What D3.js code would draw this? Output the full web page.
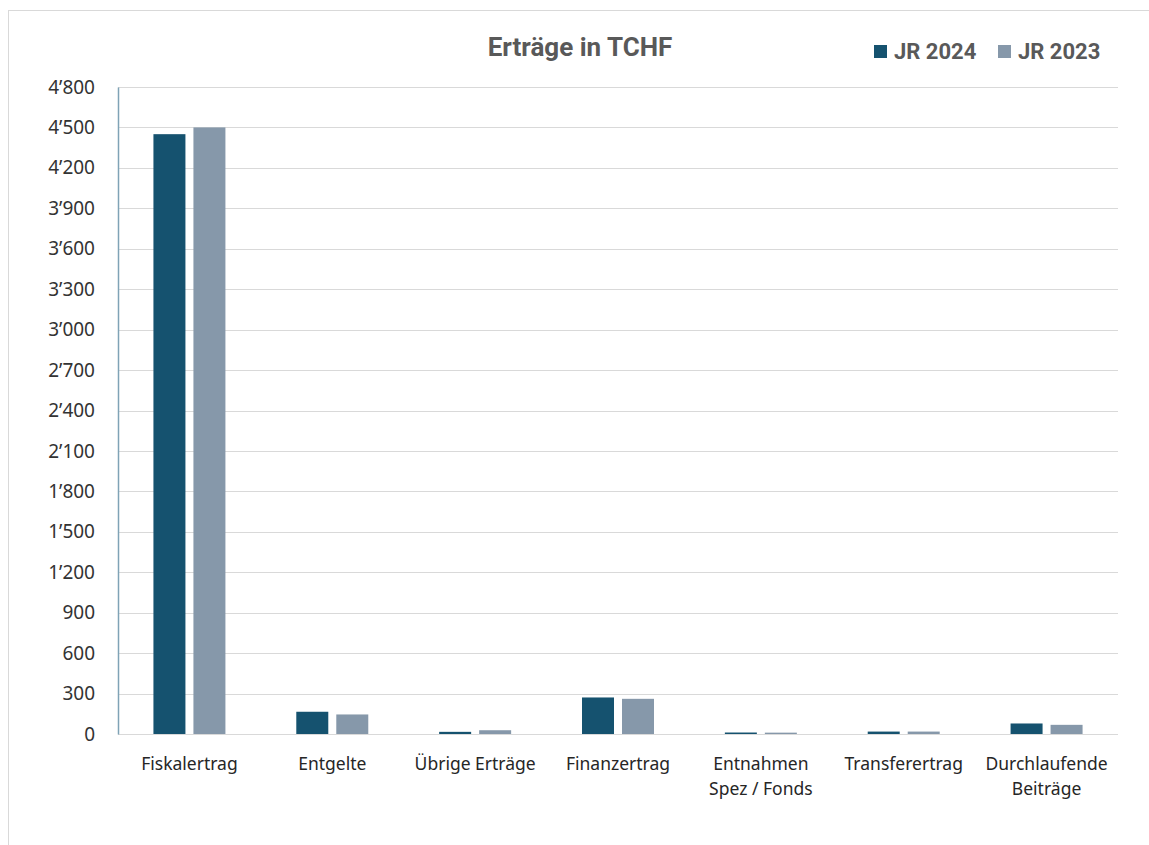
<!DOCTYPE html>
<html>
<head>
<meta charset="utf-8">
<script src="https://cdn.jsdelivr.net/npm/d3@7"></script>
<style>
  body { margin: 0; background: #fff; }
  svg { display: block; }
</style>
</head>
<body>
<div id="chart"></div>
<script>
// categories on the x axis (multi-line labels split with \n)
const categories = ['Fiskalertrag', 'Entgelte', 'Übrige Erträge', 'Finanzertrag',
    'Entnahmen\nSpez / Fonds', 'Transferertrag', 'Durchlaufende\nBeiträge'];
const seriesNames = ['JR 2024', 'JR 2023'];
const jr2024 = [4450, 165, 16, 271, 11, 18, 78];
const jr2023 = [4500, 145, 28, 261, 10, 18, 68];
const yTicks = [0, 300, 600, 900, 1200, 1500, 1800, 2100, 2400, 2700, 3000, 3300, 3600, 3900, 4200, 4500, 4800];

const width = 1149, height = 845;
const margin = {left: 118, right: 31, top: 87, bottom: 111};
const colors = ['#15526f', '#8698aa'];

const svg = d3.select('#chart').append('svg')
    .attr('width', width)
    .attr('height', height);

// outer chart frame
svg.append('rect')
    .attr('x', 8.5).attr('y', 10.5)
    .attr('width', width + 10).attr('height', height + 10)
    .attr('fill', 'none')
    .attr('stroke', '#d9d9d9');

const xScale = d3.scaleBand()
    .domain(categories)
    .range([margin.left, width - margin.right]);

const xInner = d3.scaleBand()
    .domain(seriesNames)
    .range([0, xScale.bandwidth()])
    .paddingInner(0.2)
    .paddingOuter(0.886);

const yScale = d3.scaleLinear()
    .domain([0, 4800])
    .range([height - margin.bottom, margin.top]);

// gridlines
svg.append('g')
    .selectAll('line')
    .data(yTicks)
    .enter()
    .append('line')
    .attr('x1', margin.left)
    .attr('x2', width - margin.right)
    .attr('y1', function (d) { return Math.round(yScale(d)) + 0.5; })
    .attr('y2', function (d) { return Math.round(yScale(d)) + 0.5; })
    .attr('stroke', '#d9d9d9')
    .attr('stroke-width', 1);

// y axis
const yAxis = svg.append('g')
    .attr('transform', `translate(${margin.left}, 0)`)
    .call(d3.axisLeft(yScale)
        .tickValues(yTicks)
        .tickSize(0)
        .tickPadding(23)
        .tickFormat(function (d) { return d3.format(',')(d).replace(/,/g, '’'); }));
yAxis.select('.domain')
    .attr('stroke', '#7fa3b6')
    .attr('stroke-width', 1.5);
yAxis.selectAll('text')
    .style('font-family', '"Noto Sans", "Liberation Sans", sans-serif')
    .style('font-size', '19px')
    .style('fill', '#333');

// bars
const data = categories.map(function (c, i) {
    return {category: c, values: [jr2024[i], jr2023[i]]};
});

svg.append('g')
    .selectAll('g')
    .data(data)
    .enter()
    .append('g')
    .attr('transform', function (d) { return `translate(${xScale(d.category)}, 0)`; })
    .selectAll('rect')
    .data(function (d) { return d.values.map(function (v, k) { return {key: seriesNames[k], value: v, k: k}; }); })
    .enter()
    .append('rect')
    .attr('x', function (d) { return xInner(d.key); })
    .attr('width', xInner.bandwidth())
    .attr('y', function (d) { return yScale(d.value); })
    .attr('height', function (d) { return yScale(0) - yScale(d.value); })
    .attr('fill', function (d) { return colors[d.k]; });

// category labels
svg.append('g')
    .selectAll('text')
    .data(categories)
    .enter()
    .append('text')
    .attr('x', function (d) { return xScale(d) + xScale.bandwidth() / 2; })
    .attr('y', height - margin.bottom + 36)
    .attr('text-anchor', 'middle')
    .style('font-family', '"Noto Sans", "Open Sans", sans-serif')
    .style('font-size', '17.5px')
    .style('fill', '#262626')
    .each(function (d) {
        const lines = d.split('\n');
        const t = d3.select(this);
        lines.forEach(function (l, i) {
            t.append('tspan')
                .attr('x', xScale(d) + xScale.bandwidth() / 2)
                .attr('dy', i === 0 ? 0 : 25)
                .text(l);
        });
    });

// title
svg.append('text')
    .attr('x', 580)
    .attr('y', 56)
    .attr('text-anchor', 'middle')
    .style('font-family', 'Roboto, sans-serif')
    .style('font-weight', 'bold')
    .style('font-size', '26px')
    .style('fill', '#595959')
    .text('Erträge in TCHF');

// legend
const legendX = [874, 998];
const legend = svg.selectAll('.legend')
    .data(seriesNames)
    .enter().append('g')
    .attr('class', 'legend')
    .attr('transform', function (d, i) { return `translate(${legendX[i]}, 45)`; });

legend.append('rect')
    .attr('width', 13)
    .attr('height', 13)
    .attr('fill', function (d, i) { return colors[i]; });

legend.append('text')
    .attr('x', 20)
    .attr('y', 14)
    .style('font-family', 'Roboto, sans-serif')
    .style('font-weight', 'bold')
    .style('font-size', '22px')
    .style('fill', '#595959')
    .text(function (d) { return d; });
</script>
</body>
</html>
